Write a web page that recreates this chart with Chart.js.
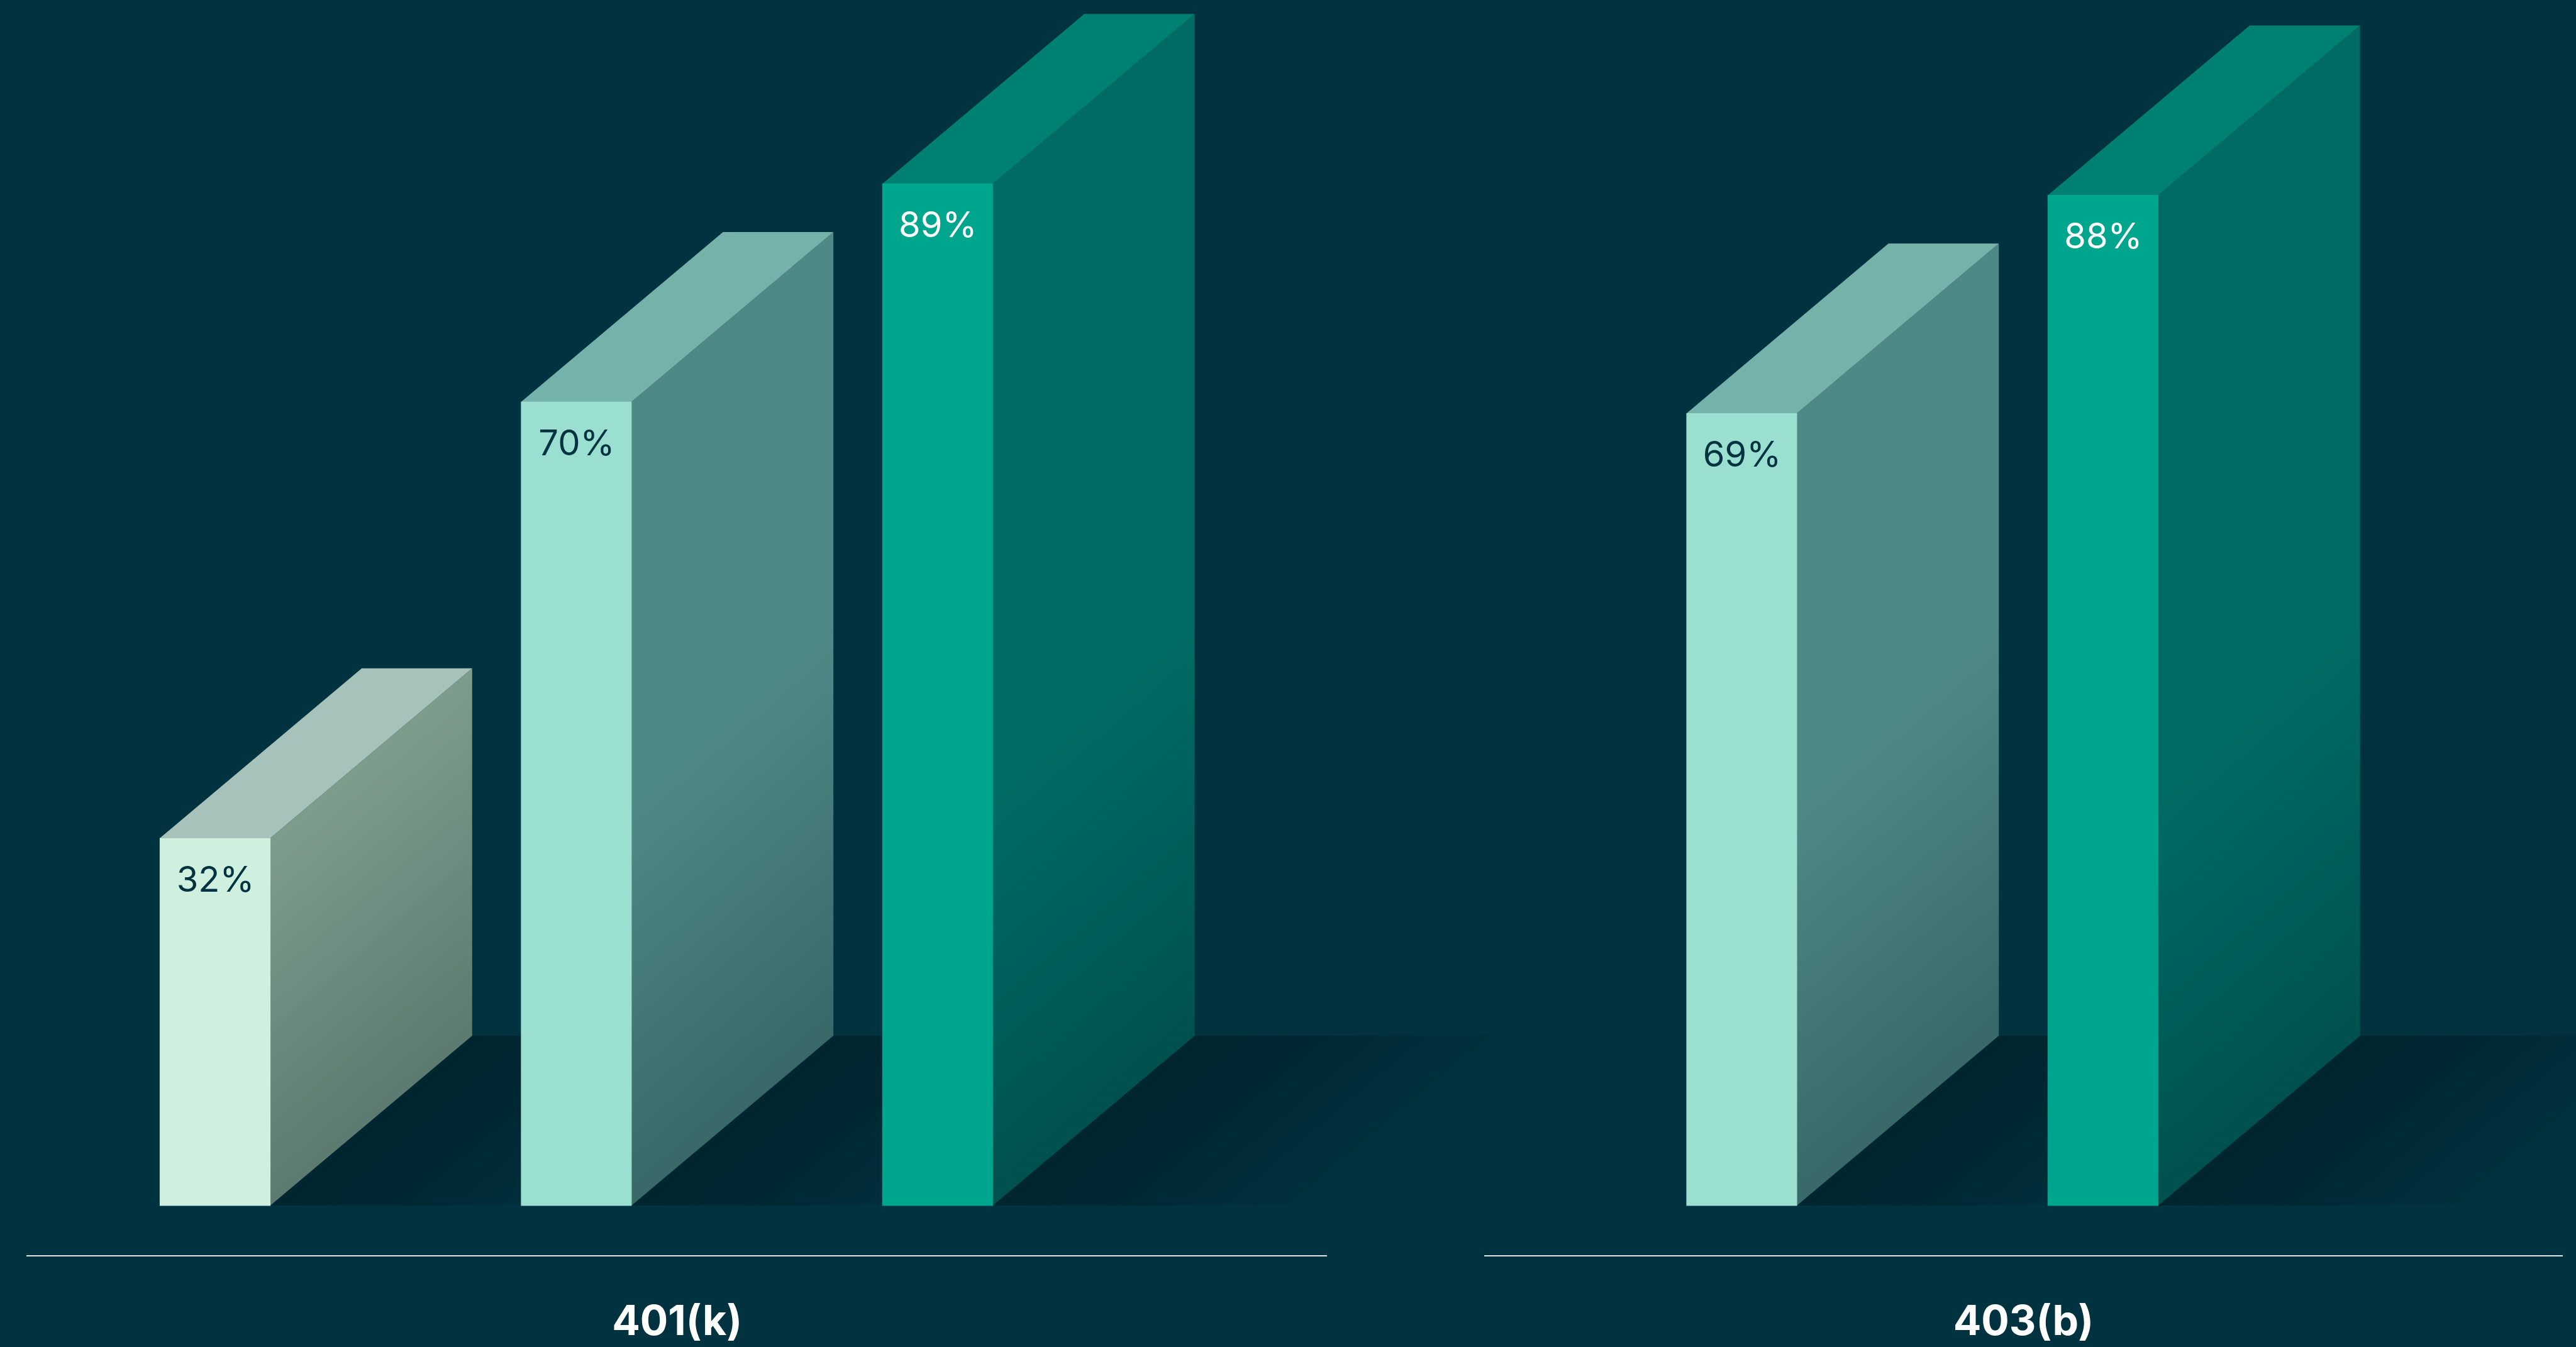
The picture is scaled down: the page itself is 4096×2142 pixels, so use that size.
<!DOCTYPE html>
<html lang="en">
<head>
<meta charset="utf-8">
<title>Plan participation</title>
<script src="https://cdn.jsdelivr.net/npm/chart.js@4/dist/chart.umd.min.js"></script>
<style>
  html, body { margin: 0; padding: 0; width: 4096px; height: 2142px; overflow: hidden; background: #00323f; }
  canvas { position: absolute; left: 0; top: 0; }
</style>
</head>
<body>
<canvas id="plan401k" width="4096" height="2142"></canvas>
<canvas id="plan403b" width="4096" height="2142"></canvas>
<script>
const planNames = ['401(k)', '403(b)'];
const values401k = [32, 70, 89];
const values403b = [69, 88];

const frontColors401k = ['#cff0df', '#9adfd0', '#00a58d'];
const topColors401k = ['#a6c2ba', '#74b2aa', '#008070'];
const sideStart401k = ['#80a08f', '#4f8986', '#006b64'];
const sideEnd401k = ['#5c7a70', '#386868', '#00514e'];
const labelColors401k = ['#00323f', '#00323f', '#ffffff'];

const frontColors403b = frontColors401k.slice(1);
const topColors403b = topColors401k.slice(1);
const sideStart403b = sideStart401k.slice(1);
const sideEnd403b = sideEnd401k.slice(1);
const labelColors403b = labelColors401k.slice(1);

// Oblique projection of each slab, in page pixels.
const DEPTH_X = 321;
const DEPTH_Y = 270;
const SHADOW_LENGTH = 510;
const BAR_THICKNESS = 175.5;
const BAR_STEP = 574.4;
const SHADOW_COLOR = [0, 38, 48];

const slabPlugin = {
  id: 'slabs',
  beforeDatasetsDraw(chart, args, opts) {
    const ctx = chart.ctx;
    const bars = chart.getDatasetMeta(0).data;
    const len = Math.hypot(DEPTH_X, DEPTH_Y);
    const nx = DEPTH_Y / len, ny = DEPTH_X / len;

    // Floor shadows first, so the faces of later slabs sit on top of them.
    bars.forEach(bar => {
      const xr = bar.x + bar.width / 2;
      const reach = SHADOW_LENGTH * nx;
      const g = ctx.createLinearGradient(xr, bar.base, xr + reach * nx, bar.base + reach * ny);
      const c = SHADOW_COLOR.join(',');
      g.addColorStop(0, `rgba(${c},1)`);
      g.addColorStop(0.35, `rgba(${c},0.85)`);
      g.addColorStop(1, `rgba(${c},0)`);
      ctx.fillStyle = g;
      ctx.beginPath();
      ctx.moveTo(xr, bar.base);
      ctx.lineTo(xr + DEPTH_X, bar.base - DEPTH_Y);
      ctx.lineTo(xr + DEPTH_X + SHADOW_LENGTH, bar.base - DEPTH_Y);
      ctx.lineTo(xr + SHADOW_LENGTH, bar.base);
      ctx.closePath();
      ctx.fill();
    });

    bars.forEach((bar, i) => {
      const xl = bar.x - bar.width / 2;
      const xr = bar.x + bar.width / 2;

      const side = ctx.createLinearGradient(xr, bar.base - 640, xr + DEPTH_X, bar.base - DEPTH_Y);
      side.addColorStop(0, opts.sideStart[i]);
      side.addColorStop(1, opts.sideEnd[i]);
      ctx.fillStyle = side;
      ctx.beginPath();
      ctx.moveTo(xr, bar.y);
      ctx.lineTo(xr + DEPTH_X, bar.y - DEPTH_Y);
      ctx.lineTo(xr + DEPTH_X, bar.base - DEPTH_Y);
      ctx.lineTo(xr, bar.base);
      ctx.closePath();
      ctx.fill();

      ctx.fillStyle = opts.top[i];
      ctx.beginPath();
      ctx.moveTo(xl, bar.y);
      ctx.lineTo(xl + DEPTH_X, bar.y - DEPTH_Y);
      ctx.lineTo(xr + DEPTH_X, bar.y - DEPTH_Y);
      ctx.lineTo(xr, bar.y);
      ctx.closePath();
      ctx.fill();
    });
  },
  afterDatasetsDraw(chart, args, opts) {
    const ctx = chart.ctx;
    const bars = chart.getDatasetMeta(0).data;
    const values = chart.data.datasets[0].data;
    ctx.save();
    ctx.font = '400 56px Inter, "Liberation Sans", sans-serif';
    ctx.textAlign = 'center';
    ctx.textBaseline = 'alphabetic';
    bars.forEach((bar, i) => {
      ctx.fillStyle = opts.label[i];
      ctx.fillText(values[i].y + '%', bar.x + 0.5, bar.y + 85);
    });
    ctx.restore();
  }
};

function drawPlan(canvasId, planName, values, colors, ruleLeft, ruleRight, firstBarCenter) {
  new Chart(document.getElementById(canvasId), {
    type: 'bar',
    data: {
      datasets: [{
        data: values.map((y, x) => ({ x, y })),
        backgroundColor: colors.front,
        borderWidth: 0,
        barThickness: BAR_THICKNESS,
        clip: false
      }]
    },
    plugins: [slabPlugin],
    options: {
      responsive: false,
      animation: false,
      devicePixelRatio: 1,
      layout: { padding: { left: ruleLeft, right: 4096 - ruleRight, top: 0, bottom: 0 } },
      plugins: {
        legend: { display: false },
        tooltip: { enabled: false },
        title: { display: false },
        slabs: { top: colors.top, sideStart: colors.sideStart, sideEnd: colors.sideEnd, label: colors.label }
      },
      scales: {
        x: {
          type: 'linear',
          offset: false,
          min: (ruleLeft - firstBarCenter) / BAR_STEP,
          max: (ruleRight - firstBarCenter) / BAR_STEP,
          grid: { display: false, drawTicks: false },
          border: { display: true, color: '#dce9e8', width: 2 },
          ticks: { display: false },
          title: {
            display: true,
            text: planName,
            color: '#ffffff',
            font: { family: 'Inter, "Liberation Sans", sans-serif', size: 66, weight: '700', lineHeight: 1.15 },
            padding: { top: 68.8, bottom: 0.6 }
          }
        },
        y: {
          display: false,
          min: -4.36,
          max: 105
        }
      }
    }
  });
}

drawPlan('plan401k', planNames[0], values401k,
  { front: frontColors401k, top: topColors401k, sideStart: sideStart401k, sideEnd: sideEnd401k, label: labelColors401k },
  43.4, 2109.9, 342);
drawPlan('plan403b', planNames[1], values403b,
  { front: frontColors403b, top: topColors403b, sideStart: sideStart403b, sideEnd: sideEnd403b, label: labelColors403b },
  2360.8, 4074, 2769.5);
</script>
</body>
</html>
